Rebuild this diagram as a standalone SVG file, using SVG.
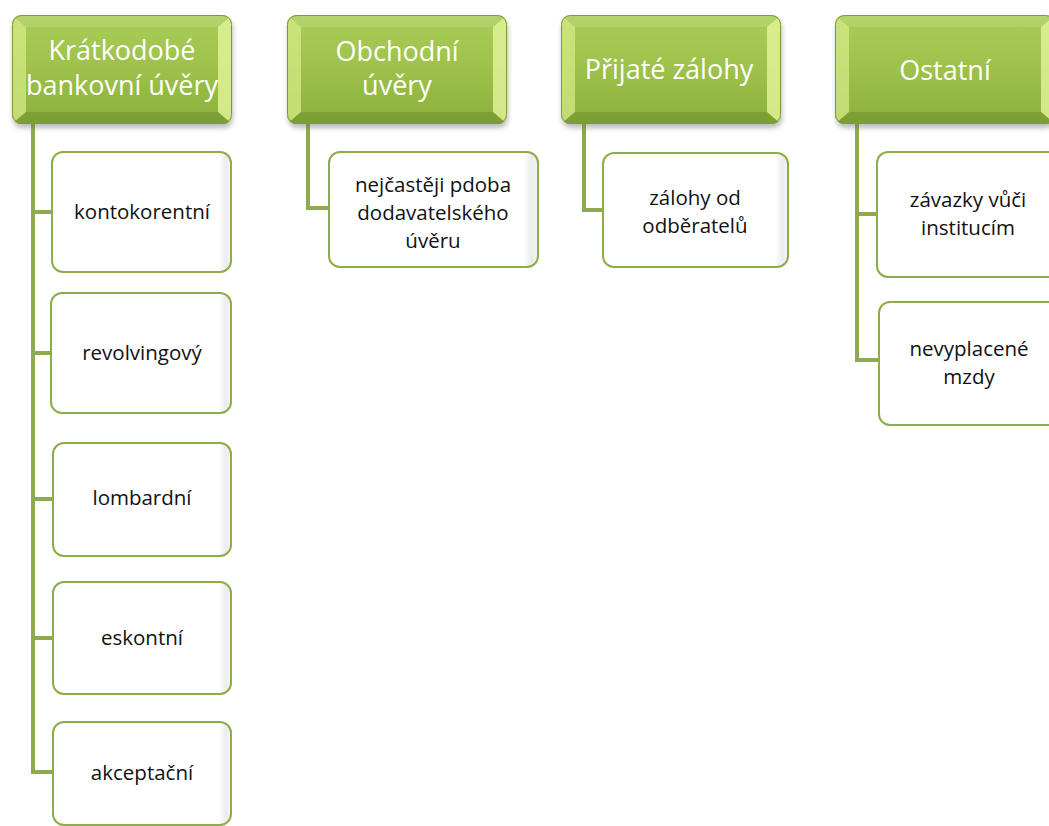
<svg xmlns="http://www.w3.org/2000/svg" xmlns:xlink="http://www.w3.org/1999/xlink" width="1049" height="826" viewBox="0 0 1049 826">
  <style>
    .hdr-text { font-family: "Open Sans", "Liberation Sans", sans-serif; font-size: 27px; fill: #ffffff; text-anchor: middle; }
    .item-text { font-family: "Open Sans", "Liberation Sans", sans-serif; font-size: 20.5px; fill: #111111; text-anchor: middle; }
    .item-box { fill: url(#itemFill); stroke: #8cae48; stroke-width: 2; }
    .link { fill: none; stroke: #8dab4c; stroke-width: 4; stroke-linejoin: miter; }
  </style>
  <defs>
    <linearGradient id="hdrFill" x1="0" y1="0" x2="0" y2="1">
      <stop offset="0" stop-color="#aacd58"/>
      <stop offset="0.5" stop-color="#9dc14a"/>
      <stop offset="1" stop-color="#8bb03c"/>
    </linearGradient>
    <linearGradient id="itemFill" x1="0" y1="0" x2="1" y2="0">
      <stop offset="0" stop-color="#ffffff"/>
      <stop offset="0.93" stop-color="#ffffff"/>
      <stop offset="0.97" stop-color="#ececec"/>
      <stop offset="1" stop-color="#f6f6f6"/>
    </linearGradient>
    <filter id="shadow" x="-10%" y="-10%" width="125%" height="135%">
      <feGaussianBlur stdDeviation="2.5"/>
    </filter>
    <clipPath id="hdrClip">
      <rect x="0" y="0" width="220" height="109" rx="9"/>
    </clipPath>
    <!-- bevelled green heading tile, drawn at the origin -->
    <g id="hdrTile">
      <rect x="1" y="4" width="220" height="109" rx="9" fill="#6b6b6b" opacity="0.45" filter="url(#shadow)"/>
      <g clip-path="url(#hdrClip)">
        <rect x="0" y="0" width="220" height="109" fill="url(#hdrFill)"/>
        <polygon points="0,0 220,0 206,12 14,12" fill="#ffffff" opacity="0.12"/>
        <polygon points="0,0 14,12 14,97 0,109" fill="#d4ea86" opacity="0.75"/>
        <polygon points="220,0 206,12 206,97 220,109" fill="#dff296" opacity="0.85"/>
        <polygon points="0,109 14,97 206,97 220,109" fill="#5f7e24" opacity="0.35"/>
      </g>
      <rect x="0.5" y="0.5" width="219" height="108" rx="9" fill="none" stroke="#7c9a3a" stroke-width="1"/>
    </g>
  </defs>

  <rect width="1049" height="826" fill="#ffffff"/>

  <!-- connectors -->
  <g id="connectors">
    <path class="link" d="M33,124 V772 M33,212 H53 M33,353 H53 M33,499 H53 M33,638 H53 M31,772 H53"/>
    <path class="link" d="M308,124 V208 H330"/>
    <path class="link" d="M584,124 V210 H604"/>
    <path class="link" d="M857,124 V360 M857,214 H878 M855,360 H880"/>
  </g>

  <!-- column 1 -->
  <g id="n-kratkodobe">
    <use xlink:href="#hdrTile" x="12" y="15"/>
    <text class="hdr-text" x="122" y="60">Krátkodobé</text>
    <text class="hdr-text" x="122" y="95">bankovní úvěry</text>
  </g>
  <g id="n-kontokorentni">
    <rect class="item-box" x="52" y="152" width="179" height="120" rx="11"/>
    <text class="item-text" x="142" y="219">kontokorentní</text>
  </g>
  <g id="n-revolvingovy">
    <rect class="item-box" x="51" y="293" width="180" height="120" rx="11"/>
    <text class="item-text" x="142" y="360">revolvingový</text>
  </g>
  <g id="n-lombardni">
    <rect class="item-box" x="53" y="443" width="178" height="113" rx="11"/>
    <text class="item-text" x="142" y="505">lombardní</text>
  </g>
  <g id="n-eskontni">
    <rect class="item-box" x="53" y="582" width="178" height="112" rx="11"/>
    <text class="item-text" x="142" y="645">eskontní</text>
  </g>
  <g id="n-akceptacni">
    <rect class="item-box" x="53" y="722" width="178" height="103" rx="11"/>
    <text class="item-text" x="142" y="780">akceptační</text>
  </g>

  <!-- column 2 -->
  <g id="n-obchodni">
    <use xlink:href="#hdrTile" x="287" y="15"/>
    <text class="hdr-text" x="397" y="61">Obchodní</text>
    <text class="hdr-text" x="397" y="95">úvěry</text>
  </g>
  <g id="n-dodavatelsky">
    <rect class="item-box" x="329" y="152" width="209" height="115" rx="11"/>
    <text class="item-text" x="433" y="192">nejčastěji pdoba</text>
    <text class="item-text" x="433" y="220">dodavatelského</text>
    <text class="item-text" x="433" y="248">úvěru</text>
  </g>

  <!-- column 3 -->
  <g id="n-prijate">
    <use xlink:href="#hdrTile" x="561" y="15"/>
    <text class="hdr-text" x="669" y="79">Přijaté zálohy</text>
  </g>
  <g id="n-zalohy">
    <rect class="item-box" x="603" y="153" width="185" height="114" rx="11"/>
    <text class="item-text" x="695" y="205">zálohy od</text>
    <text class="item-text" x="695" y="233">odběratelů</text>
  </g>

  <!-- column 4 -->
  <g id="n-ostatni">
    <use xlink:href="#hdrTile" x="835" y="15"/>
    <text class="hdr-text" x="945" y="80">Ostatní</text>
  </g>
  <g id="n-instituce">
    <rect class="item-box" x="877" y="152" width="185" height="125" rx="11"/>
    <text class="item-text" x="968" y="207">závazky vůči</text>
    <text class="item-text" x="968" y="235">institucím</text>
  </g>
  <g id="n-mzdy">
    <rect class="item-box" x="879" y="302" width="185" height="123" rx="11"/>
    <text class="item-text" x="969" y="356">nevyplacené</text>
    <text class="item-text" x="969" y="384">mzdy</text>
  </g>
</svg>
